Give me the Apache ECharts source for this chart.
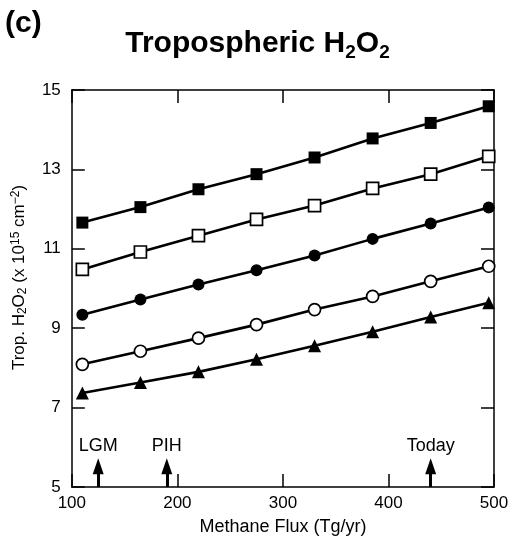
<!DOCTYPE html>
<html lang="en">
<head>
    <meta charset="UTF-8">
    <script type="text/javascript" src="https://cdn.jsdelivr.net/npm/echarts@6/dist/echarts.min.js"></script>
    <title>Tropospheric H2O2</title>
    <style>
        html, body { margin: 0; padding: 0; background: #fff; }
        #graph { width: 515px; height: 548px; }
    </style>
</head>
<body>
<div id="graph"></div>
<script type="text/javascript">
    // methane flux (Tg/yr)
    var flux = [110, 165, 220, 275, 330, 385, 440, 495];
    // tropospheric H2O2 column, x 10^15 cm^-2
    var filledSquare = [11.66, 12.05, 12.50, 12.88, 13.30, 13.78, 14.17, 14.59];
    var openSquare   = [10.48, 10.92, 11.33, 11.74, 12.09, 12.52, 12.88, 13.33];
    var filledCircle = [9.34, 9.72, 10.10, 10.46, 10.83, 11.25, 11.64, 12.04];
    var openCircle   = [8.09, 8.42, 8.75, 9.09, 9.47, 9.80, 10.18, 10.56];
    var filledTri    = [7.37, 7.63, 7.90, 8.22, 8.56, 8.91, 9.28, 9.64];
    // marked periods
    var eventNames = ['LGM', 'PIH', 'Today'];
    var eventFlux = [125, 190, 440];

    var font = 'Liberation Sans, Arial, Helvetica, sans-serif';
    var arrowBase = 5, arrowTop = 5.52;

    function pairs(ys) {
        return flux.map(function (x, i) { return [x, ys[i]]; });
    }

    function makeSeries(name, ys, symbol, open) {
        return {
            name: name,
            type: 'line',
            data: pairs(ys),
            symbol: symbol,
            symbolSize: symbol === 'triangle' ? 13 : 12,
            showSymbol: true,
            lineStyle: { color: '#000', width: 2.6 },
            itemStyle: open ? { color: '#fff', borderColor: '#000', borderWidth: 1.7 }
                            : { color: '#000', borderColor: '#000', borderWidth: 0 },
            z: 3
        };
    }

    var arrowLines = eventNames.map(function (n, i) {
        return [
            { name: n, coord: [eventFlux[i], arrowBase] },
            { coord: [eventFlux[i], arrowTop] }
        ];
    });

    var series = [
        makeSeries('a', filledSquare, 'rect', false),
        makeSeries('b', openSquare, 'rect', true),
        makeSeries('c', filledCircle, 'circle', false),
        makeSeries('d', openCircle, 'circle', true),
        makeSeries('e', filledTri, 'triangle', false)
    ];
    series[0].markLine = {
        silent: true,
        animation: false,
        symbol: ['none', 'triangle'],
        symbolSize: [11, 16],
        lineStyle: { color: '#000', width: 3, type: 'solid' },
        label: {
            show: true,
            position: 'end',
            distance: 11,
            formatter: '{b}',
            color: '#000',
            fontFamily: font,
            fontSize: 18
        },
        data: arrowLines
    };

    var chart = echarts.init(document.getElementById('graph'), null, { renderer: 'canvas' });
    chart.setOption({
        animation: false,
        backgroundColor: '#fff',
        title: {
            text: '{a|Tropospheric H}{s|2}{a|O}{s|2}',
            left: 'center',
            top: 25,
            textStyle: {
                rich: {
                    a: { fontFamily: font, fontSize: 30, fontWeight: 'bold', color: '#000', lineHeight: 32, padding: [0, 0, 5, 0] },
                    s: { fontFamily: font, fontSize: 19, fontWeight: 'bold', color: '#000', lineHeight: 19, verticalAlign: 'bottom' }
                }
            }
        },
        graphic: [{
            type: 'text',
            left: 5,
            top: 9,
            style: { text: '(c)', fontFamily: font, fontSize: 30, fontWeight: 'bold', fill: '#000' }
        }],
        grid: { left: 65, right: 21, top: 90, bottom: 61, containLabel: false },
        xAxis: [{
            type: 'value',
            min: 100, max: 500, interval: 100,
            name: 'Methane Flux (Tg/yr)',
            nameLocation: 'middle',
            nameGap: 31,
            nameTextStyle: { fontFamily: font, fontSize: 18, color: '#000' },
            axisLine: { show: true, onZero: false, lineStyle: { color: '#000', width: 1.5 } },
            axisTick: { show: true, inside: true, length: 13, lineStyle: { color: '#000', width: 1.5 } },
            axisLabel: { fontFamily: font, fontSize: 17, color: '#000', margin: 8 },
            splitLine: { show: false }
        }, {
            type: 'value',
            position: 'top',
            min: 100, max: 500, interval: 100,
            axisLine: { show: true, onZero: false, lineStyle: { color: '#000', width: 1.5 } },
            axisTick: { show: true, inside: true, length: 13, lineStyle: { color: '#000', width: 1.5 } },
            axisLabel: { show: false },
            splitLine: { show: false }
        }],
        yAxis: [{
            type: 'value',
            min: 5, max: 15, interval: 2,
            name: '{n|Trop. H}{s|2}{n|O}{s|2}{n| (x 10}{p|15}{n| cm}{p|−2}{n|)}',
            nameLocation: 'middle',
            nameRotate: 90,
            nameGap: 28,
            nameTextStyle: {
                padding: [0, 0, 0, 22],
                rich: {
                    n: { fontFamily: font, fontSize: 17, color: '#000', lineHeight: 19, padding: [3, 0, 3, 0] },
                    s: { fontFamily: font, fontSize: 12, color: '#000', lineHeight: 12, verticalAlign: 'bottom' },
                    p: { fontFamily: font, fontSize: 12, color: '#000', lineHeight: 12, verticalAlign: 'top' }
                }
            },
            axisLine: { show: true, onZero: false, lineStyle: { color: '#000', width: 1.5 } },
            axisTick: { show: true, inside: true, length: 13, lineStyle: { color: '#000', width: 1.5 } },
            axisLabel: { fontFamily: font, fontSize: 17, color: '#000', margin: 11 },
            splitLine: { show: false }
        }, {
            type: 'value',
            position: 'right',
            min: 5, max: 15, interval: 2,
            axisLine: { show: true, onZero: false, lineStyle: { color: '#000', width: 1.5 } },
            axisTick: { show: true, inside: true, length: 13, lineStyle: { color: '#000', width: 1.5 } },
            axisLabel: { show: false },
            splitLine: { show: false }
        }],
        series: series
    });
</script>
</body>
</html>
